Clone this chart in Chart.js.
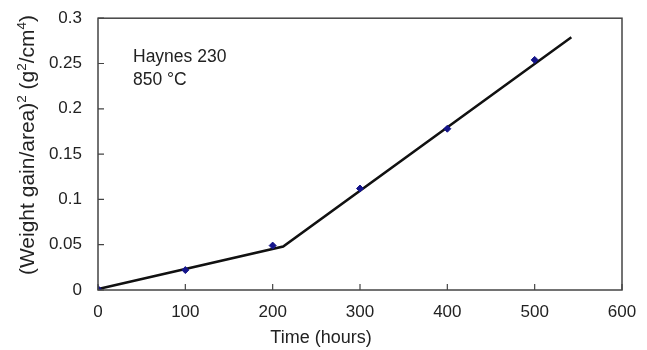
<!DOCTYPE html>
<html>
<head>
<meta charset="utf-8">
<script src="https://cdn.jsdelivr.net/npm/chart.js@4.4.1/dist/chart.umd.min.js"></script>
<style>
  html, body { margin: 0; padding: 0; background: #fff; }
  #wrap { width: 647px; height: 350px; }
</style>
</head>
<body>
<div id="wrap"><canvas id="chart"></canvas></div>
<script>
// Measured oxidation data (hours, (weight gain/area)^2)
const hours = [0, 100, 200, 300, 400, 500];
const gainSquared = [0.001, 0.022, 0.049, 0.112, 0.178, 0.254];

// Two-stage parabolic fit, break near 210 h
const fitHours = [0, 212, 542];
const fitValues = [0.001, 0.048, 0.279];

const xTicks = [0, 100, 200, 300, 400, 500, 600];
const yTicks = [0, 0.05, 0.1, 0.15, 0.2, 0.25, 0.3];

const noteLines = ["Haynes 230", "850 °C"];
const xTitle = "Time (hours)";
// y title pieces: [text, superscript?]
const yTitleParts = [
  ["(Weight gain/area)", false], ["2", true],
  [" (g", false], ["2", true], ["/cm", false], ["4", true], [")", false],
];

const FONT = "'Liberation Sans', Arial, Helvetica, sans-serif";

// Frame, inward tick marks, axis titles and the sample note
const framePlugin = {
  id: "frame",
  afterDraw(chart) {
    const { ctx, chartArea: a, scales } = chart;
    ctx.save();
    ctx.strokeStyle = "#444";
    ctx.lineWidth = 1.5;
    ctx.strokeRect(a.left, a.top, a.right - a.left, a.bottom - a.top);
    ctx.lineWidth = 1.2;
    ctx.beginPath();
    xTicks.forEach((t) => {
      const px = scales.x.getPixelForValue(t);
      ctx.moveTo(px, a.bottom);
      ctx.lineTo(px, a.bottom - 6);
    });
    yTicks.forEach((t) => {
      const py = scales.y.getPixelForValue(t);
      ctx.moveTo(a.left, py);
      ctx.lineTo(a.left + 6, py);
    });
    ctx.stroke();

    ctx.fillStyle = "#222";
    ctx.textBaseline = "middle";

    ctx.font = "17.5px " + FONT;
    noteLines.forEach((line, i) => {
      ctx.fillText(line, a.left + 35, a.top + 39 + i * 23);
    });

    // x title, sitting a little left of centre
    ctx.font = "18px " + FONT;
    ctx.textAlign = "center";
    ctx.fillText(xTitle, a.left + 223, 338);

    // rotated y title with real superscripts
    const big = "21px " + FONT, small = "13.5px " + FONT;
    let total = 0;
    yTitleParts.forEach(([t, sup]) => {
      ctx.font = sup ? small : big;
      total += ctx.measureText(t).width;
    });
    ctx.translate(27, 145);
    ctx.rotate(-Math.PI / 2);
    ctx.textAlign = "left";
    ctx.textBaseline = "alphabetic";
    let x = -total / 2;
    yTitleParts.forEach(([t, sup]) => {
      ctx.font = sup ? small : big;
      ctx.fillText(t, x, sup ? -1 : 7);
      x += ctx.measureText(t).width;
    });
    ctx.restore();
  },
};

new Chart(document.getElementById("chart"), {
  type: "scatter",
  data: {
    datasets: [
      {
        label: "Fit",
        data: fitHours.map((h, i) => ({ x: h, y: fitValues[i] })),
        showLine: true,
        borderColor: "#111",
        borderWidth: 2.5,
        pointRadius: 0,
        order: 2,
      },
      {
        label: "Measured",
        data: hours.map((h, i) => ({ x: h, y: gainSquared[i] })),
        pointStyle: "rectRot",
        pointRadius: 3.5,
        backgroundColor: "#14148a",
        borderColor: "#14148a",
        borderWidth: 1,
        order: 1,
      },
    ],
  },
  options: {
    responsive: true,
    maintainAspectRatio: false,
    animation: false,
    layout: { padding: { top: 18, right: 25, left: 0, bottom: 0 } },
    plugins: {
      legend: { display: false },
      tooltip: { enabled: false },
    },
    scales: {
      x: {
        type: "linear",
        min: 0,
        max: 600,
        afterFit: (s) => { s.height = 60; },
        afterBuildTicks: (s) => { s.ticks = xTicks.map((v) => ({ value: v })); },
        grid: { display: false },
        border: { display: false },
        ticks: {
          padding: 4,
          color: "#222",
          font: { family: FONT, size: 17 },
        },
      },
      y: {
        type: "linear",
        min: 0,
        max: 0.3,
        afterFit: (s) => { s.width = 98; },
        afterBuildTicks: (s) => { s.ticks = yTicks.map((v) => ({ value: v })); },
        grid: { display: false },
        border: { display: false },
        ticks: {
          padding: 8,
          color: "#222",
          font: { family: FONT, size: 17 },
          callback: (v) => String(Number(v.toFixed(2))),
        },
      },
    },
  },
  plugins: [framePlugin],
});
</script>
</body>
</html>
